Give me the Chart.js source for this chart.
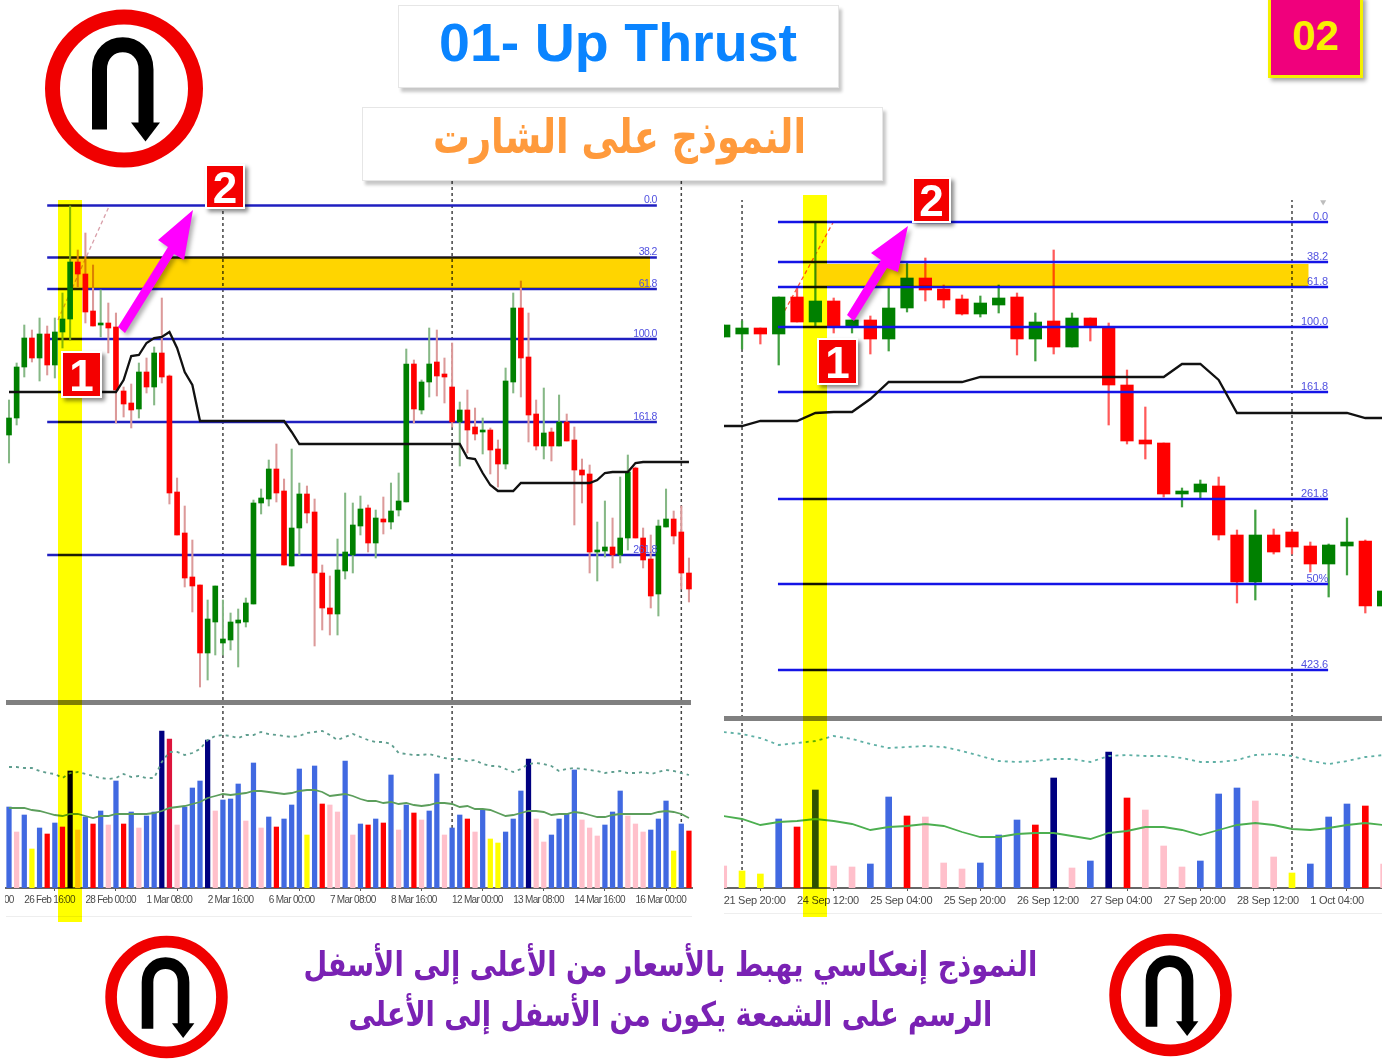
<!DOCTYPE html>
<html lang="ar"><head><meta charset="utf-8">
<script src="https://cdn.jsdelivr.net/npm/chart.js@4"></script>
<style>
html,body{margin:0;padding:0;background:#fff;}
#page{position:absolute;left:0;top:0;width:1395px;height:1059px;overflow:hidden;background:#fff;filter:blur(0.45px);}
canvas{position:absolute;display:block;}
.abs{position:absolute;}
.box{position:absolute;background:#fff;border:1px solid #e6e6e6;box-shadow:3px 4px 3px rgba(0,0,0,.22);box-sizing:border-box;}
.stripe{position:absolute;background:#ffff00;mix-blend-mode:multiply;}
.num{position:absolute;background:#f40000;border:2px solid #fff;box-shadow:3px 3px 4px rgba(0,0,0,.45);color:#fff;font:bold 44px "Liberation Sans",Arial,sans-serif;text-align:center;box-sizing:border-box;}
.fit{position:absolute;white-space:nowrap;transform-origin:center center;}
.sep{position:absolute;background:#808080;}
.faint{position:absolute;background:#eeeeee;height:1px;}
</style></head><body>
<div id="page">
  <canvas id="leftPrice" width="688" height="520" style="left:5px;top:180px"></canvas>
  <canvas id="leftVol" width="688" height="210" style="left:5px;top:706px"></canvas>
  <canvas id="rightPrice" width="658" height="518" style="left:724px;top:200px"></canvas>
  <canvas id="rightVol" width="658" height="195" style="left:724px;top:721px"></canvas>
  <div class="sep" style="left:6px;top:700px;width:685px;height:5px"></div>
  <div class="sep" style="left:724px;top:716px;width:658px;height:5px"></div>
  <div class="faint" style="left:6px;top:916px;width:686px"></div>
  <div class="faint" style="left:724px;top:913px;width:658px"></div>
  <div class="stripe" style="left:58px;top:200px;width:23.5px;height:722px"></div>
  <div class="stripe" style="left:803px;top:195px;width:23.5px;height:722px"></div>

  <div class="box" style="left:398px;top:5px;width:441px;height:83px"></div>
  <div class="fit" data-w="358" data-cx="618" data-cy="42" style="font:bold 54px 'Liberation Sans',Arial,sans-serif;color:#0a84ff">01- Up Thrust</div>
  <div class="box" style="left:362px;top:107px;width:521px;height:74px"></div>
  <div class="fit" dir="rtl" data-w="373" data-cx="619" data-cy="136" style="font:bold 47px 'DejaVu Sans',sans-serif;color:#ff9a3c">النموذج على الشارت</div>

  <div class="abs" style="left:1268px;top:-4px;width:95px;height:82px;background:#f0007c;border:3px solid #f5f000;box-sizing:border-box;box-shadow:3px 3px 4px rgba(0,0,0,.35);color:#f8f000;font:bold 42px 'Liberation Sans',Arial,sans-serif;text-align:center;line-height:74px">02</div>

  <svg class="abs" style="left:0;top:0;filter:drop-shadow(3px 3px 2px rgba(0,0,0,.3))" width="1395" height="400">
    <polygon fill="#ff00ff" points="118,327 125,333 174,254 184,260 193,210 158,240 168,247"/>
    <polygon fill="#ff00ff" points="847,315 854,321 887,268 898,272 908,226 871,253 881,260"/>
  </svg>
  <div class="num" style="left:61px;top:351px;width:41px;height:47px;line-height:45px">1</div>
  <div class="num" style="left:205px;top:164px;width:40px;height:45px;line-height:43px">2</div>
  <div class="num" style="left:817px;top:338px;width:41px;height:47px;line-height:45px">1</div>
  <div class="num" style="left:912px;top:177px;width:39px;height:46px;line-height:44px">2</div>

  <svg class="abs" style="left:0;top:0" width="1395" height="1059">
    <defs>
      <g id="sign">
        <circle cx="0" cy="0" r="71.5" fill="#fff" stroke="#f00000" stroke-width="15"/>
        <path d="M-24.5 41 V-19 C-24.5 -52 22 -52 22 -19 V36" fill="none" stroke="#000" stroke-width="15"/>
        <polygon points="7,34 36,34 21.5,53" fill="#000"/>
      </g>
    </defs>
    <use href="#sign" transform="translate(124,88.5)"/>
    <use href="#sign" transform="translate(166.5,997) scale(.775)"/>
    <use href="#sign" transform="translate(1170.5,995) scale(.775)"/>
  </svg>

  <div class="fit" dir="rtl" data-w="734" data-cx="670" data-cy="964" style="font:bold 34px 'DejaVu Sans',sans-serif;color:#7a22b4">النموذج إنعكاسي يهبط بالأسعار من الأعلى إلى الأسفل</div>
  <div class="fit" dir="rtl" data-w="644" data-cx="670" data-cy="1014" style="font:bold 34px 'DejaVu Sans',sans-serif;color:#7a22b4">الرسم على الشمعة يكون من الأسفل إلى الأعلى</div>
</div>
<script>
// ---------- LEFT CHART (index-style price units) ----------
const leftHigh=[300,337,375,370,382,374,382,407,494,450,467,435,410,397,387,313,316,337,342,353,402,325,222,194,160,115,100,114,100,87,91,102,200,211,240,256,221,251,217,214,201,135,124,161,207,197,204,195,190,203,217,227,351,340,320,372,370,342,357,298,310,292,282,272,260,332,407,419,387,300,312,272,305,286,273,241,235,178,199,182,223,245,233,172,165,180,211,189,194,142];
const leftLow=[237,275,323,338,319,325,322,352,360,413,377,374,363,347,277,283,272,282,307,295,317,196,165,113,88,13,20,45,45,50,33,73,96,186,194,198,135,134,145,177,54,70,65,65,121,127,165,148,142,166,171,184,198,277,286,303,304,297,273,234,247,260,246,226,213,231,307,303,258,250,241,239,254,259,175,197,127,119,143,132,137,150,162,132,92,84,173,156,111,98];
const leftBodyTop=[282,333,362,362,366,366,368,381,438,438,426,389,377,377,373,309,297,328,328,347,347,324,208,167,123,115,81,114,61,78,80,97,197,202,231,231,209,172,206,206,188,127,92,130,148,175,191,192,182,181,189,199,336,336,318,336,338,326,313,290,290,273,270,270,251,319,392,392,343,286,267,268,278,278,260,230,226,150,153,153,162,228,232,162,141,174,181,181,168,127];
const leftBodyBottom=[265,282,333,342,342,335,335,368,381,426,388,374,375,372,310,296,290,291,313,313,323,207,165,122,114,47,47,78,57,60,77,78,96,197,201,207,135,134,172,187,127,92,86,86,129,145,174,157,157,178,178,190,198,291,290,318,324,323,278,278,270,266,268,250,236,236,318,342,285,254,254,254,254,259,230,225,148,148,149,145,145,162,162,140,104,106,173,164,127,111];
const leftDir="GGGRGRGGGRRRGRRRRGRGRRRRRRGGGGGGGGGRRGGRRRRGGGGRGRGGGRGGRRRGRRGRRGGRRRGRGRRRRGGRGGRRRGGRRR";
const leftVolume=[81,56,73,39,60,54,65,61,117,58,71,64,77,63,107,64,76,60,72,76,157,149,63,81,100,107,148,77,88,89,104,67,125,60,71,61,69,83,119,53,122,84,83,76,127,53,64,63,69,65,113,58,83,75,68,77,114,53,60,73,69,56,78,49,45,56,69,97,129,69,46,53,69,74,118,68,60,52,63,76,97,72,64,56,58,69,87,37,64,57];
const leftVolKind="bpbybrbrnpbrbpbrbpbbncpbbbnpbbbpbpbrbbbybrppbpbrbrbpbrpbbpbbrpbyybbbnppbbbbpppbbbpppbbbybr";
const leftAvg=[80,80,80,78,77,75,73,72,74,74,72,70,72,72,74,74,74,74,74,75,77,80,81,82,84,86,90,92,94,93,94,95,97,97,96,95,94,95,97,98,98,96,92,93,94,92,89,87,87,85,86,84,85,83,82,83,85,85,84,81,82,79,79,78,75,72,73,75,77,77,76,73,74,74,76,75,73,71,71,73,74,74,74,74,74,76,77,76,74,70];
const leftUpper=[121,121,120,120,117,115,114,110,115,116,114,112,110,109,110,114,111,112,110,110,126,136,136,133,135,139,148,152,153,152,150,153,153,156,154,153,152,151,152,155,156,157,153,148,151,154,151,148,146,146,144,135,134,133,133,134,132,130,129,129,127,128,124,122,122,119,116,119,124,125,124,122,117,119,120,119,118,117,115,116,117,115,115,116,114,116,118,117,115,113];
const leftTrail=[308,308,308,308,308,308,308,308,308,308,308,308,308,308,308,320,344,345,357,362,363,368,352,328,315,279,279,279,279,279,279,279,279,279,279,279,279,268,256,256,256,256,256,256,256,256,256,256,256,256,256,256,256,256,256,256,256,256,256,256,242,241,227,215,209,209,209,217,217,217,217,217,217,217,217,217,217,220,227,228,228,228,237,238,238,238,238,238,238,238];
const leftFibLevels=[494.5,442.5,411,361,278,145];
const leftFibLabels=["0.0","38.2","61.8","100.0","161.8","261.8"];
const leftFibSpan=[5,84.8];
const leftBandX=[8,83.9];
const leftBandY=[412,443.5];
const leftTrendX=[6.4,13];
const leftTrendY=[380,492];
const leftSeparators=[28,58,88];
const leftTickBars=[-6,2,10,18,26,34,42,50,58,66,74,82];
const leftTickLabels=["23 Feb 08:00","26 Feb 16:00","28 Feb 00:00","1 Mar 08:00","2 Mar 16:00","6 Mar 00:00","7 Mar 08:00","8 Mar 16:00","12 Mar 00:00","13 Mar 08:00","14 Mar 16:00","16 Mar 00:00"];

// ---------- RIGHT CHART ----------
const rightHigh=[393,397,390,421,430,496,420,398,402,431,456,460,433,423,422,433,425,405,468,405,400,395,348,311,275,230,238,241,188,208,189,188,176,174,200,178,127];
const rightLow=[381,369,374,353,396,391,385,385,364,367,406,417,410,403,401,405,363,357,364,371,377,293,274,259,221,211,220,178,115,118,164,164,146,121,143,105,112];
const rightBodyTop=[393,390,390,421,421,417,417,398,398,410,440,440,429,419,415,420,421,396,397,400,400,390,333,278,275,227,234,232,183,183,183,186,172,173,176,177,127];
const rightBodyBottom=[381,384,384,384,396,396,391,391,379,379,410,428,418,404,404,413,379,379,371,371,391,333,277,274,224,224,226,183,136,136,166,171,154,154,172,112,112];
const rightDir="GGRGRGRGRGGRRRGGRGRGRRRRRGGRRGRRRGGRG";
const rightVolume=[22,17,14,69,61,98,22,21,24,91,72,71,25,19,25,53,68,63,110,20,27,136,90,78,42,21,27,94,100,87,31,15,24,71,84,82,24];
const rightVolKind="pyybrkppbbrpppbbbrnpbnrpppbbbppybbbrp";
const rightAvg=[72,69,63,66,67,69,67,64,58,61,62,64,62,56,51,51,54,55,55,52,49,55,57,61,61,58,53,58,63,65,63,59,58,60,63,65,63];
const rightUpper=[156,154,150,143,145,147,152,149,144,140,141,142,141,137,132,127,126,127,129,129,126,132,133,132,132,130,126,126,128,133,134,132,127,124,127,131,133];
const rightTrail=[292,292,297,297,297,305,306,306,319,336,336,336,336,336,341,341,341,341,341,341,341,341,341,341,341,354,354,338,305,305,305,305,305,305,305,300,300];
const rightFibLevels=[496,456,431,391,326,219,134,48];
const rightFibLabels=["0.0","38.2","61.8","100.0","161.8","261.8","50%","423.6"];
const rightFibSpan=[2.96,32.97];
const rightBandX=[4.98,31.9];
const rightBandY=[432,454];
const rightTrendX=[2.96,5.98];
const rightTrendY=[395,496];
const rightSeparators=[1,31];
const rightTickBars=[0,4,8,12,16,20,24,28,32];
const rightTickLabels=["21 Sep 20:00","24 Sep 12:00","25 Sep 04:00","25 Sep 20:00","26 Sep 12:00","27 Sep 04:00","27 Sep 20:00","28 Sep 12:00","1 Oct 04:00"];
const rightMarkerX=[32.7];
const rightMarkerY=[516];

const KIND={b:'#4169e1',p:'#ffc0cb',y:'#ffff00',r:'#ff0000',n:'#000080',c:'#dc143c',k:'#2f5000'};
const UP='#008000',DOWN='#ff0000';

function idx(arr){return arr.map((_,i)=>i);}
function vertical(x,top){return {type:'line',data:[{x,y:0},{x,y:top}],borderColor:'#444',borderWidth:1.5,borderDash:[3,3],pointRadius:0,order:6};}

function bandPlugin(xr,yr,color){return {id:'band',afterDatasetsDraw(c){
  const sx=c.scales.x,sy=c.scales.y,ctx=c.ctx;ctx.save();ctx.globalCompositeOperation='multiply';ctx.fillStyle=color;
  const x0=sx.getPixelForValue(xr[0]),x1=sx.getPixelForValue(xr[1]),y1=sy.getPixelForValue(yr[0]),y0=sy.getPixelForValue(yr[1]);
  ctx.fillRect(x0,y0,x1-x0,y1-y0);ctx.restore();}};}
function fibLabelPlugin(levels,labels,xEnd,font,spacing){return {id:'fibLabels',afterDatasetsDraw(c){
  const sx=c.scales.x,sy=c.scales.y,ctx=c.ctx;ctx.save();ctx.font=font;ctx.letterSpacing=spacing;ctx.fillStyle='#5050e0';ctx.textAlign='right';ctx.textBaseline='alphabetic';
  labels.forEach((t,i)=>ctx.fillText(t,sx.getPixelForValue(xEnd),sy.getPixelForValue(levels[i])-2.5));ctx.restore();}};}
function spacingPlugin(spacing){return {id:'tickSpacing',beforeLayout(c){c.ctx.letterSpacing=spacing;},beforeDraw(c){c.ctx.letterSpacing=spacing;}};}

function priceChart(id,o){
  const xs=idx(o.high);
  const ds=[];
  const col=(i)=>o.dir[i]==='G'?UP:DOWN;
  ds.push({type:'bar',data:xs.map(i=>({x:i,y:[o.low[i],o.high[i]]})),backgroundColor:xs.map(i=>o.dir[i]==='G'?o.wickUp:o.wickDown),barThickness:o.wickW,grouped:false,order:o.orders.wick});
  ds.push({type:'bar',data:xs.map(i=>({x:i,y:[o.bottom[i],o.top[i]]})),backgroundColor:xs.map(col),barThickness:o.bodyW,grouped:false,order:o.orders.body});
  o.fib.forEach((lv)=>ds.push({type:'line',data:o.fibSpan.map(x=>({x,y:lv})),borderColor:o.fibColor,borderWidth:2.3,pointRadius:0,order:o.orders.fib}));
  o.sep.forEach(x=>ds.push(vertical(x,o.yMax)));
  ds.push({type:'line',data:o.trendX.map((x,i)=>({x,y:o.trendY[i]})),borderColor:o.trendColor,borderWidth:1.3,borderDash:[4,3],pointRadius:0,order:5});
  ds.push({type:'line',data:xs.map(i=>({x:i,y:o.trail[i]})),borderColor:'#111',borderWidth:2.3,pointRadius:0,tension:0,order:0});
  if(o.markerX) ds.push({type:'line',clip:false,data:o.markerX.map((x,i)=>({x,y:o.markerY[i]})),showLine:false,pointStyle:'triangle',rotation:180,pointRadius:3.5,pointBackgroundColor:'#bdbdbd',pointBorderWidth:0,order:0});
  return new Chart(document.getElementById(id),{type:'bar',data:{datasets:ds},
    plugins:[bandPlugin(o.bandX,o.bandY,'#ffd500'),fibLabelPlugin(o.fib,o.fibLabels,o.fibSpan[1],o.labelFont,o.labelSpacing)],
    options:{responsive:false,animation:false,devicePixelRatio:1,layout:{padding:0,autoPadding:false},
      plugins:{legend:{display:false},tooltip:{enabled:false},title:{display:false}},
      scales:{x:{type:'linear',display:false,min:o.xMin,max:o.xMax,offset:false},
              y:{type:'linear',display:false,min:0,max:o.yMax}}}});
}
function volChart(id,o){
  const xs=idx(o.vol),ds=[];
  ds.push({type:'line',data:xs.map(i=>({x:i,y:o.avg[i]})),borderColor:o.avgColor,borderWidth:1.8,pointRadius:0,order:1});
  ds.push({type:'line',data:xs.map(i=>({x:i,y:o.upper[i]})),borderColor:o.upColor,borderWidth:1.8,borderDash:[3,4],pointRadius:0,order:1});
  ds.push({type:'bar',data:xs.map(i=>({x:i,y:o.vol[i]})),backgroundColor:xs.map(i=>KIND[o.kind[i]]),barThickness:o.barW,grouped:false,order:2});
  o.sep.forEach(x=>ds.push(vertical(x,o.yMax)));
  return new Chart(document.getElementById(id),{type:'bar',data:{datasets:ds},
    plugins:[spacingPlugin(o.tickSpacing)],
    options:{responsive:false,animation:false,devicePixelRatio:1,layout:{padding:0,autoPadding:false},
      plugins:{legend:{display:false},tooltip:{enabled:false},title:{display:false}},
      scales:{
        x:{type:'linear',min:o.xMin,max:o.xMax,offset:false,
           grid:{drawOnChartArea:false,drawTicks:true,tickLength:3,color:'#555'},
           border:{display:true,color:'#666',width:2},
           afterBuildTicks(a){a.ticks=o.tickBars.map(v=>({value:v}));},
           afterFit(a){a.paddingLeft=0;a.paddingRight=0;a.height=o.axisH;},
           ticks:{autoSkip:false,maxRotation:0,minRotation:0,align:'start',padding:3,color:'#4a4a4a',font:o.tickFont,
                  callback(v){return o.tickLabels[o.tickBars.indexOf(v)];}}},
        y:{type:'linear',display:false,min:0,max:o.yMax}}}});
}

const leftX={xMin:-0.524,xMax:89.53},rightX={xMin:0.016,xMax:35.91};
priceChart('leftPrice',Object.assign({high:leftHigh,low:leftLow,top:leftBodyTop,bottom:leftBodyBottom,dir:leftDir,trail:leftTrail,
  fib:leftFibLevels,fibLabels:leftFibLabels,fibSpan:leftFibSpan,fibColor:'#1f1fc0',sep:leftSeparators,bandX:leftBandX,bandY:leftBandY,
  trendX:leftTrendX,trendY:leftTrendY,trendColor:'#d9a0aa',yMax:520,bodyW:5,wickW:1.4,wickUp:'#86b886',wickDown:'#dc9a9a',
  labelFont:"10.5px 'Liberation Sans',sans-serif",labelSpacing:'-0.55px',orders:{wick:3,body:2,fib:4}},leftX));
volChart('leftVol',Object.assign({vol:leftVolume,kind:leftVolKind,avg:leftAvg,upper:leftUpper,sep:leftSeparators,yMax:182,barW:4.6,axisH:28,
  avgColor:'#5c9e5c',upColor:'#5f9e8f',tickBars:leftTickBars,tickLabels:leftTickLabels,tickSpacing:'-0.7px',tickFont:{family:"'Liberation Sans',sans-serif",size:10}},leftX));
priceChart('rightPrice',Object.assign({high:rightHigh,low:rightLow,top:rightBodyTop,bottom:rightBodyBottom,dir:rightDir,trail:rightTrail,
  fib:rightFibLevels,fibLabels:rightFibLabels,fibSpan:rightFibSpan,fibColor:'#1414e6',sep:rightSeparators,bandX:rightBandX,bandY:rightBandY,
  trendX:rightTrendX,trendY:rightTrendY,trendColor:'#ff5a3c',yMax:518,bodyW:12.6,wickW:1.6,wickUp:'#40a040',wickDown:'#ff5a5a',
  markerX:rightMarkerX,markerY:rightMarkerY,
  labelFont:"11px 'Liberation Sans',sans-serif",labelSpacing:'-0.1px',orders:{wick:3,body:2,fib:1}},rightX));
volChart('rightVol',Object.assign({vol:rightVolume,kind:rightVolKind,avg:rightAvg,upper:rightUpper,sep:rightSeparators,yMax:167,barW:6,axisH:28,
  avgColor:'#4caf50',upColor:'#5fb0a5',tickBars:rightTickBars,tickLabels:rightTickLabels,tickSpacing:'-0.3px',tickFont:{family:"'Liberation Sans',sans-serif",size:11}},rightX));

document.querySelectorAll('.fit').forEach(el=>{
  const w=el.offsetWidth,h=el.offsetHeight,tw=+el.dataset.w,cx=+el.dataset.cx,cy=+el.dataset.cy;
  el.style.left=(cx-w/2)+'px';el.style.top=(cy-h/2)+'px';
  el.style.transform='scaleX('+(tw/w)+')';
});
</script>
</body></html>
